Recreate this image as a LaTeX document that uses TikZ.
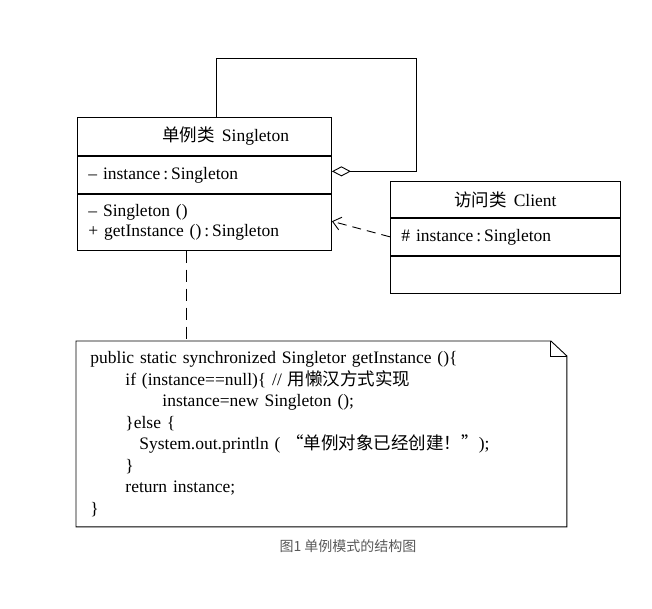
\documentclass[tikz,border=0pt]{standalone}
\usepackage{fontspec}
\setmainfont{Liberation Serif}
\newfontfamily\cjk{Noto Sans CJK SC}
\usetikzlibrary{arrows.meta}

\begin{document}
\begin{tikzpicture}[x=1pt,y=-1pt,line width=0.9pt,
        every node/.style={font=\fontsize{17.5}{21.5}\selectfont},
        cell/.style={draw,rectangle,inner xsep=11pt,inner ysep=0pt,align=left,anchor=north west},
        dep/.style={dash pattern=on 9pt off 6pt},
        link/.style={dash pattern=on 12pt off 7pt}]
        \useasboundingbox (0,0) rectangle (652,609);
        % class Singleton
        \node[cell,text width=232pt,minimum height=38pt] (sTitle) at (77,117) {\hspace*{74pt}{\cjk 单例类}\hspace{0.4em}Singleton};
        \node[cell,text width=232pt,minimum height=37pt] (sAttr) at (sTitle.south west) {\textendash\ instance\,:\,Singleton};
        \node[cell,text width=232pt,minimum height=56pt,font=\fontsize{17.5}{20}\selectfont] (sOps) at (sAttr.south west) {\textendash\ Singleton ()\\+ getInstance ()\,:\,Singleton};
        % class Client
        \node[cell,text width=208pt,minimum height=36pt,align=center] (cTitle) at (390,181) {{\cjk 访问类}\hspace{0.4em}Client};
        \node[cell,text width=208pt,minimum height=37pt] (cAttr) at (cTitle.south west) {\# instance\,:\,Singleton};
        \node[cell,text width=208pt,minimum height=37pt] (cOps) at (cAttr.south west) {};
        % self association
        \coordinate (loop) at (416,58);
        \draw[{Diamond[open,length=19pt,width=10pt]}-] ([yshift=3.5pt]sAttr.east) -| (loop) -| ([xshift=12pt]sTitle.north);
        \draw[dep,-{Straight Barb[length=8pt,width=13pt]}] (cAttr.west) -- ([yshift=1pt]sOps.east);
        % note
        \node[anchor=north west,text width=462pt,inner xsep=14pt,inner ysep=0pt,minimum height=185pt,align=left] (note) at (76,341) {%
            public static synchronized Singletor getInstance ()\{\\
            \hspace*{35pt}if (instance==null)\{ // {\cjk 用懒汉方式实现}\\
            \hspace*{72pt}instance=new Singleton ();\\
            \hspace*{35pt}\}else \{\\
            \hspace*{49pt}System.out.println ( {\cjk “单例对象已经创建！”});\\
            \hspace*{35pt}\}\\
            \hspace*{35pt}return instance;\\
            \}};
        \draw (note.north west) -- ([xshift=-16pt]note.north east) -- ([yshift=-15pt]note.north east) -- (note.south east) -- (note.south west) -- cycle;
        \draw ([xshift=-16pt]note.north east) |- ([yshift=-15pt]note.north east);
        \draw[link] ([xshift=-18pt]sOps.south) -- ([xshift=-18pt]sOps.south |- note.north);
        \node[text=black!65,font=\cjk\fontsize{14}{14}\selectfont] (caption) at (348,546) {图1 单例模式的结构图};
    \end{tikzpicture}
\end{document}
